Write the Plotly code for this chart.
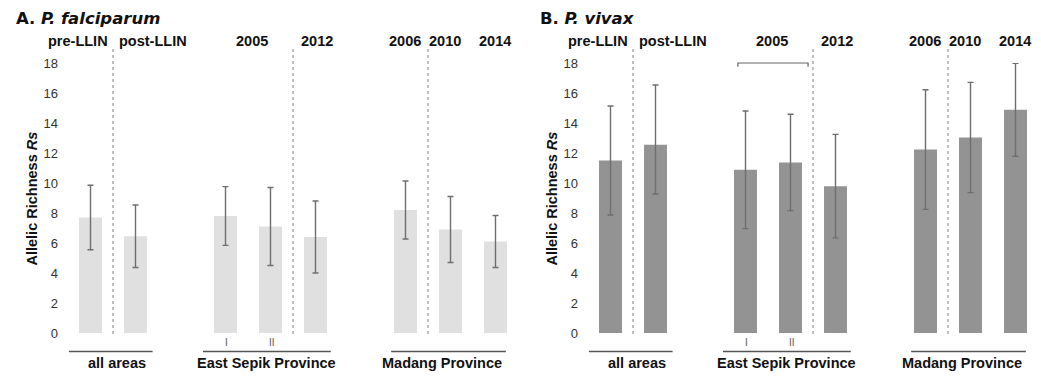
import plotly.graph_objects as go

# Sample groups along the x axis (gaps separate the three study areas)
groups = ["pre-LLIN", "post-LLIN", "ESP 2005 I", "ESP 2005 II", "ESP 2012",
          "MAD 2006", "MAD 2010", "MAD 2014"]
positions = [0, 1, 3, 4, 5, 7, 8, 9]

# P. falciparum allelic richness (mean and error)
pf_mean = [7.7, 6.45, 7.8, 7.1, 6.4, 8.2, 6.9, 6.1]
pf_err = [2.15, 2.08, 1.96, 2.6, 2.4, 1.93, 2.2, 1.73]

# P. vivax allelic richness (mean, upper and lower error)
pv_mean = [11.5, 12.55, 10.88, 11.36, 9.79, 12.24, 13.03, 14.88]
pv_err_plus = [3.63, 3.98, 3.92, 3.22, 3.45, 3.98, 3.68, 3.1]
pv_err_minus = [3.63, 3.28, 3.92, 3.2, 3.45, 4.0, 3.67, 3.1]

# Header labels above bars: (text, x position)
headers = [("pre-LLIN", -0.28), ("post-LLIN", 1.39), ("2005", 3.59), ("2012", 5.04),
           ("2006", 6.99), ("2010", 7.88), ("2014", 8.99)]
# Period separators (x position)
separators = [0.5, 4.5, 7.5]
# Area groupings below the axis: (label, x start, x end, label centre)
areas = [("all areas", -0.48, 1.38, 0.58),
         ("East Sepik Province", 2.5, 5.34, 3.92),
         ("Madang Province", 6.68, 9.23, 7.81)]
# Sub-site labels under the East Sepik 2005 bars
sites = [("I", 3.03), ("II", 4.03)]

W, H = 1041, 378
PLOT_TOP, PLOT_BOT = 63, 333
XR = [-0.5, 9.5]
LEFT_DOM = [68 / W, 518 / W]
RIGHT_DOM = [588 / W, 1038 / W]

BOLD = "Liberation Sans, Arial, sans-serif"
TITLE_FONT = "DejaVu Sans, Verdana, sans-serif"


def py(px):
    """Convert a pixel row to paper y."""
    return (PLOT_BOT - px) / (PLOT_BOT - PLOT_TOP)


fig = go.Figure()
fig.add_trace(go.Bar(
    x=positions, y=pf_mean, name="P. falciparum", text=groups, hoverinfo="text+y",
    textposition="none", width=0.51, marker=dict(color="#e0e0e0", line=dict(width=0)),
    error_y=dict(type="data", array=pf_err, color="#6e6e6e", thickness=1.4, width=3),
    xaxis="x", yaxis="y",
))
fig.add_trace(go.Bar(
    x=positions, y=pv_mean, name="P. vivax", text=groups, hoverinfo="text+y",
    textposition="none", width=0.51, marker=dict(color="#939393", line=dict(width=0)),
    error_y=dict(type="data", array=pv_err_plus, arrayminus=pv_err_minus,
                 color="#6e6e6e", thickness=1.4, width=3),
    xaxis="x2", yaxis="y2",
))

yax = dict(range=[0, 18], dtick=2, showgrid=False, zeroline=False, showline=False,
           ticks="", ticklabelstandoff=9,
           tickfont=dict(family=BOLD, size=13, color="#333333"))
xax = dict(range=XR, showgrid=False, zeroline=False, showline=False,
           showticklabels=False, ticks="")

fig.update_layout(
    width=W, height=H, showlegend=False,
    margin=dict(l=0, r=0, t=PLOT_TOP, b=H - PLOT_BOT),
    plot_bgcolor="white", paper_bgcolor="white",
    xaxis=dict(domain=LEFT_DOM, anchor="y", **xax),
    yaxis=dict(anchor="x", **yax),
    xaxis2=dict(domain=RIGHT_DOM, anchor="y2", **xax),
    yaxis2=dict(anchor="x2", **yax),
)

annotations = []
shapes = []
panels = [("x", "y", "<b>A. <i>P. falciparum</i></b>", 14 / W, 32 / W),
          ("x2", "y2", "<b>B. <i>P. vivax</i></b>", 538 / W, 552 / W)]
for xref, yref, title, tx, ytx in panels:
    annotations.append(dict(text=title, xref="paper", yref="paper", x=tx, y=py(18.5),
                            xanchor="left", yanchor="middle", showarrow=False,
                            font=dict(family=TITLE_FONT, size=16.5, color="#111111")))
    annotations.append(dict(text="<b>Allelic Richness <i>Rs</i></b>", xref="paper", yref="paper",
                            x=ytx, y=py(198.5), textangle=-90, xanchor="center",
                            yanchor="middle", showarrow=False,
                            font=dict(family=BOLD, size=14.5, color="#111111")))
    for txt, xp in headers:
        annotations.append(dict(text=f"<b>{txt}</b>", xref=xref, yref="paper", x=xp, y=py(41),
                                xanchor="center", yanchor="middle", showarrow=False,
                                font=dict(family=BOLD, size=14.5, color="#111111")))
    for xp in separators:
        shapes.append(dict(type="line", xref=xref, yref="paper", x0=xp, x1=xp,
                           y0=py(334), y1=py(48),
                           line=dict(color="#808080", width=1, dash="dot")))
    for txt, x0, x1, xc in areas:
        shapes.append(dict(type="line", xref=xref, yref="paper", x0=x0, x1=x1,
                           y0=py(351.5), y1=py(351.5),
                           line=dict(color="#555555", width=1.6)))
        annotations.append(dict(text=f"<b>{txt}</b>", xref=xref, yref="paper", x=xc, y=py(362.5),
                                xanchor="center", yanchor="middle", showarrow=False,
                                font=dict(family=BOLD, size=14.5, color="#111111")))
    for txt, xp in sites:
        annotations.append(dict(text=txt, xref=xref, yref="paper", x=xp, y=py(342),
                                xanchor="center", yanchor="middle", showarrow=False,
                                font=dict(family=BOLD, size=10, color="#555555")))

# Bracket joining the two East Sepik 2005 sites (P. vivax)
b0, b1 = 2.83, 4.39
shapes.append(dict(type="path", xref="x2", yref="paper",
                   path=f"M {b0},{py(66.7)} L {b0},{py(63)} L {b1},{py(63)} L {b1},{py(66.7)}",
                   line=dict(color="#666666", width=1.2)))

fig.update_layout(annotations=annotations, shapes=shapes)
fig.write_html("out.html")
